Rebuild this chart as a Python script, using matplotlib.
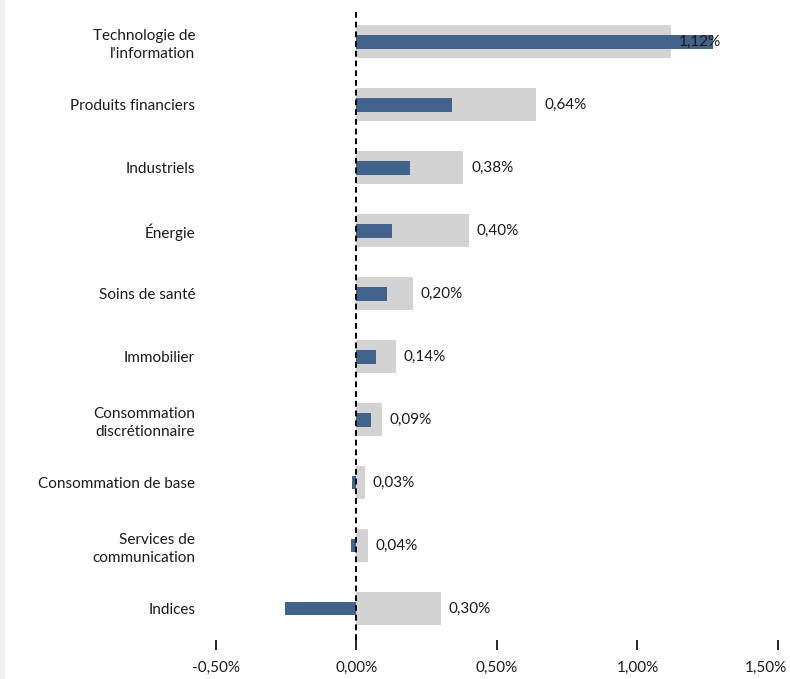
import numpy as np
import matplotlib.pyplot as plt
from matplotlib.patches import Rectangle
from matplotlib.transforms import ScaledTranslation

# sectors, top to bottom
sectors = ["Technologie de\nl'information", "Produits financiers", "Industriels",
           "Énergie", "Soins de santé", "Immobilier",
           "Consommation\ndiscrétionnaire", "Consommation de base",
           "Services de\ncommunication", "Indices"]
grey_vals = [1.12, 0.64, 0.38, 0.40, 0.20, 0.14, 0.09, 0.03, 0.04, 0.30]
blue_vals = [1.27, 0.34, 0.19, 0.125, 0.11, 0.07, 0.05, -0.015, -0.02, -0.255]
xticks = [-0.5, 0.0, 0.5, 1.0, 1.5]
xlabels = ["-0,50%", "0,00%", "0,50%", "1,00%", "1,50%"]

plt.rcParams['font.family'] = ['Lato', 'DejaVu Sans']

fig = plt.figure(figsize=(7.9, 6.79), dpi=100)
ax = fig.add_axes([0.2734, 0.0574, 0.7114, 0.9276])

y = np.arange(len(sectors))
ax.barh(y, grey_vals, height=0.52, color="#d3d3d3", zorder=1)
ax.barh(y, blue_vals, height=0.22, color="#41628b", zorder=2)

for yi, v in zip(y, grey_vals):
  ax.text(v + 0.028, yi, f"{v:.2f}%".replace(".", ","), va="center", ha="left",
          fontsize=11, color="#1a1a1a", zorder=3)

ax.axvline(0, color="black", linestyle=(0, (3, 2)), linewidth=1.4, zorder=4)

ax.set_xlim(-0.5, 1.5)
ax.set_ylim(9.5, -0.5)
ax.set_xticks(xticks)
ax.set_xticklabels(xlabels, fontsize=11, color="#1a1a1a")
ax.set_yticks(y)
ax.set_yticklabels(sectors, fontsize=11, color="#1a1a1a", ha="right",
                   linespacing=1.35)
ax.tick_params(axis="y", length=0, pad=15)
ax.tick_params(axis="x", direction="out", length=7, width=1.2, color="black", pad=8)
for s in ax.spines.values():
  s.set_visible(False)

# last tick label is pulled left to stay inside the image, as in the original
last = ax.get_xticklabels()[-1]
last.set_transform(last.get_transform() + ScaledTranslation(-12 / 100, 0, fig.dpi_scale_trans))

# faint left border strip
fig.add_artist(Rectangle((0, 0), 4 / 790, 1, transform=fig.transFigure,
                         color="#f0f0f0", zorder=0))

fig.savefig("out.png", dpi=100)
